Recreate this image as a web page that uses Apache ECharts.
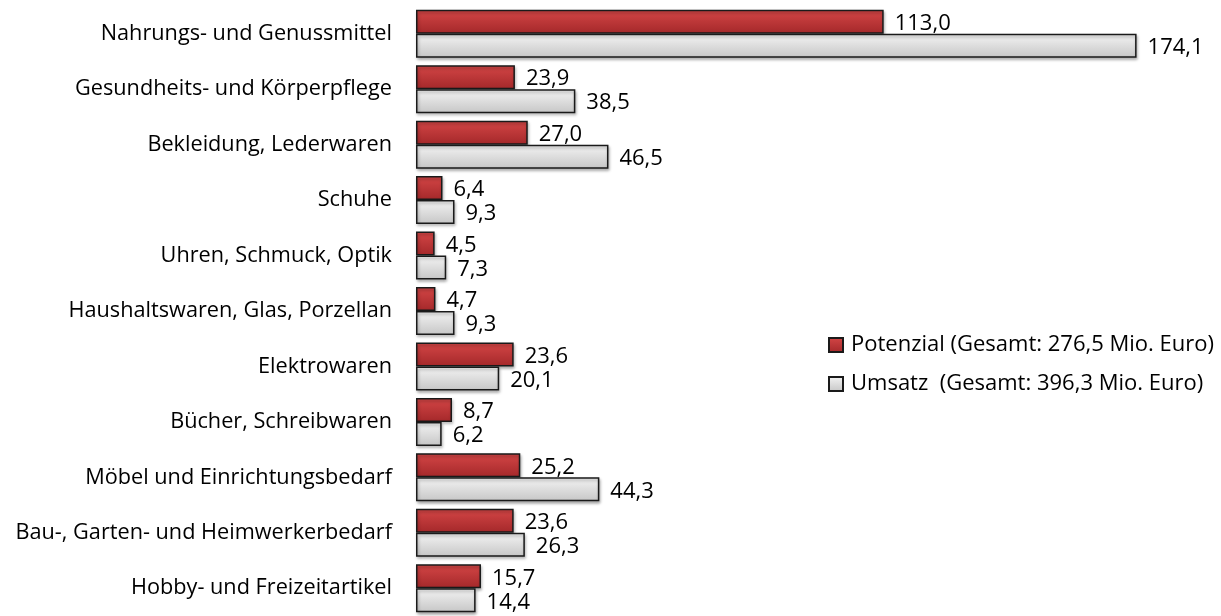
<!DOCTYPE html>
<html>
<head>
<meta charset="utf-8">
<script src="https://cdn.jsdelivr.net/npm/echarts@6/dist/echarts.min.js"></script>
<style>
html,body{margin:0;padding:0;background:#fff;}
#chart{width:1221px;height:616px;}
</style>
</head>
<body>
<div id="chart"></div>
<script>
// Sortimente
var categories = [
	'Nahrungs- und Genussmittel',
	'Gesundheits- und Körperpflege',
	'Bekleidung, Lederwaren',
	'Schuhe',
	'Uhren, Schmuck, Optik',
	'Haushaltswaren, Glas, Porzellan',
	'Elektrowaren',
	'Bücher, Schreibwaren',
	'Möbel und Einrichtungsbedarf',
	'Bau-, Garten- und Heimwerkerbedarf',
	'Hobby- und Freizeitartikel'
];
// Mio. Euro
var potenzial = [113.0, 23.9, 27.0, 6.4, 4.5, 4.7, 23.6, 8.7, 25.2, 23.6, 15.7];
var umsatz = [174.1, 38.5, 46.5, 9.3, 7.3, 9.3, 20.1, 6.2, 44.3, 26.3, 14.4];
var legendText = {
	'Potenzial': 'Potenzial (Gesamt: 276,5 Mio. Euro)',
	'Umsatz': 'Umsatz  (Gesamt: 396,3 Mio. Euro)'
};

var FONT = 'Open Sans';

function fmt(v){
	return v.toFixed(1).replace('.', ',');
}

var myChart = echarts.init(document.getElementById('chart'));

var labelStyle = {
	show: true,
	position: 'right',
	distance: 11,
	fontFamily: FONT,
	fontSize: 22,
	color: '#000',
	offset: [0, 2],
	formatter: function(p){ return fmt(p.value); }
};

var option = {
	animation: false,
	grid: {
		left: 416,
		right: 60,
		top: 6,
		height: 617,
		containLabel: false
	},
	legend: {
		orient: 'vertical',
		left: 823,
		top: 328,
		itemWidth: 14,
		itemHeight: 14,
		itemGap: 15,
		icon: 'rect',
		data: ['Potenzial', 'Umsatz'],
		formatter: function(name){
			return legendText[name];
		},
		textStyle: {
			fontFamily: FONT,
			fontSize: 22,
			lineHeight: 24,
			color: '#000',
			padding: [0, 0, 0, 3]
		}
	},
	xAxis: {
		type: 'value',
		min: 0,
		max: 180,
		show: false
	},
	yAxis: {
		type: 'category',
		inverse: true,
		data: categories,
		axisLine: {show: false},
		axisTick: {show: false},
		axisLabel: {
			fontFamily: FONT,
			fontSize: 21.7,
			color: '#000',
			margin: 24
		}
	},
	series: [
		{
			name: 'Potenzial',
			type: 'bar',
			data: potenzial,
			barWidth: 24,
			barGap: '0%',
			itemStyle: {
				color: new echarts.graphic.LinearGradient(0, 0, 0, 1, [
					{offset: 0, color: '#d44646'},
					{offset: 1, color: '#a4282a'}
				]),
				borderColor: '#1a1a1a',
				borderWidth: 1.5,
				shadowColor: 'rgba(0,0,0,0.3)',
				shadowBlur: 3,
				shadowOffsetX: 1,
				shadowOffsetY: 2
			},
			label: labelStyle
		},
		{
			name: 'Umsatz',
			type: 'bar',
			data: umsatz,
			barWidth: 24,
			itemStyle: {
				color: new echarts.graphic.LinearGradient(0, 0, 0, 1, [
					{offset: 0, color: '#f4f4f4'},
					{offset: 1, color: '#c6c6c6'}
				]),
				borderColor: '#1a1a1a',
				borderWidth: 1.5,
				shadowColor: 'rgba(0,0,0,0.3)',
				shadowBlur: 3,
				shadowOffsetX: 1,
				shadowOffsetY: 2
			},
			label: labelStyle
		}
	]
};
myChart.setOption(option, true);
</script>
</body>
</html>
